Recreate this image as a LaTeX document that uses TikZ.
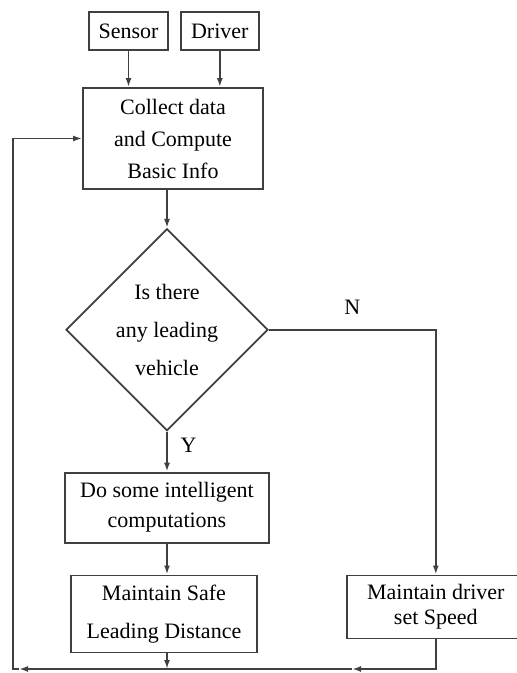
\documentclass[tikz,border=0pt]{standalone}
\usepackage{fontspec}
\setmainfont{Liberation Serif}
\usetikzlibrary{shapes.geometric, arrows.meta, positioning}

\begin{document}
\begin{tikzpicture}[
    x=1pt, y=1pt,
    line width=0.9pt,
    block/.style={rectangle, draw=black!75, align=center, inner sep=0pt, font=\fontsize{11}{16}\selectfont},
    decision/.style={diamond, draw=black!75, align=center, inner sep=0pt, minimum width=101pt, minimum height=101pt, font=\fontsize{11}{19}\selectfont},
    arrow/.style={-{Latex[length=4.5pt,width=3pt]}, draw=black!75},
    tag/.style={font=\fontsize{11}{13}\selectfont},
    node distance=19pt
    ]

    \useasboundingbox (0,0) rectangle (258,-336.5);

    % Inputs and data collection
    \node[block, minimum width=39.5pt, minimum height=19pt] (sensor) at (64.25,-15.5) {Sensor};
    \node[block, minimum width=39pt, minimum height=19pt, right=5.5pt of sensor] (driver) {Driver};
    \node[block, minimum width=90pt, minimum height=50.5pt] (collect) at (86.5,-69.25) {Collect data\\and Compute\\Basic Info};

    % Decision and actions
    \node[decision, below=19pt of collect, xshift=-3pt] (vehicle) {Is there\\any leading\\vehicle};
    \node[block, minimum width=102pt, minimum height=35pt, font=\fontsize{11}{15}\selectfont, below=20pt of vehicle] (compute) {Do some intelligent\\computations};
    \node[block, minimum width=93pt, minimum height=38.5pt, font=\fontsize{11}{19}\selectfont, below=15.5pt of compute, xshift=-1.5pt] (safe) {Maintain Safe\\Leading Distance};
    \node[block, minimum width=89pt, minimum height=31.5pt, font=\fontsize{11}{12.5}\selectfont, right=44pt of safe.north east, anchor=north west] (setspeed) {Maintain driver\\set Speed};

    % Return path
    \coordinate (bend) at (6.5,-334.5);
    \coordinate (tipleft) at (9.5,-334.5);
    \coordinate (midtip) at (176,-334.5);
    \coordinate (merge) at (compute.south |- bend);

    % Connect the blocks
    \draw[arrow] (sensor) -- (sensor |- collect.north);
    \draw[arrow] (driver) -- (driver |- collect.north);
    \draw[arrow] (vehicle.north |- collect.south) -- (vehicle);
    \draw[arrow] (vehicle) -- node[tag, right=3pt, pos=0.35] {Y} (compute);
    \draw[arrow] (vehicle.east) -| node[tag, above=4pt, pos=0.25] {N} (setspeed.north);
    \draw[arrow] (compute.south) -- (compute.south |- safe.north);
    \draw[arrow] (compute.south |- safe.south) -- (merge);
    \draw[arrow] (setspeed.south) |- (midtip);
    \draw[arrow] (midtip) -- (tipleft);
    \draw[arrow] (tipleft) -- (bend) |- (collect.west);

\end{tikzpicture}
\end{document}
